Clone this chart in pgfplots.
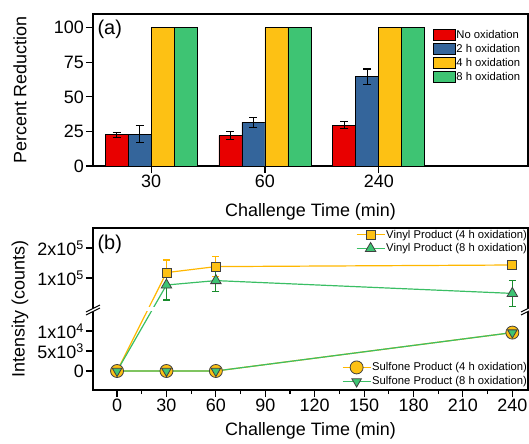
\documentclass[border=0pt]{standalone}
\usepackage{fontspec}
\setmainfont{Liberation Sans}
\usepackage{pgfplots}
\pgfplotsset{compat=1.18}

\definecolor{cred}{RGB}{232,0,0}
\definecolor{cblue}{RGB}{52,101,155}
\definecolor{cyel}{RGB}{253,193,20}
\definecolor{cgrn}{RGB}{62,196,115}
\definecolor{lora}{RGB}{255,183,0}
\definecolor{lgrn}{RGB}{58,190,100}
\definecolor{egrn}{RGB}{25,140,45}

\pgfplotsset{
  base/.style={scale only axis, anchor=south west,
    axis line style={line width=1.1bp}, tick style={line width=1.1bp, black},
    tick align=outside, major tick length=7bp, minor tick length=4bp, tick pos=left,
    tick label style={font=\fontsize{18}{20}\selectfont, inner sep=2bp},
    /pgf/number format/assume math mode=true,
    every axis y label/.style={at={(axis description cs:0,0.5)}, xshift=-73bp, rotate=90, anchor=center, font=\fontsize{18}{20}\selectfont},
    every axis x label/.style={at={(axis description cs:0.5,0)}, yshift=-46bp, anchor=center, font=\fontsize{18}{20}\selectfont}},
  leg/.style={draw=none, fill=none, font=\fontsize{11.3}{12}\selectfont, row sep=1.8bp, inner sep=0pt, nodes={inner sep=1bp}},
}

\begin{document}
\begin{tikzpicture}
\useasboundingbox (0bp,0bp) rectangle (529bp,-444bp);

% panel (a)
\begin{axis}[base, at={(93bp,-166bp)}, width=435bp, height=152bp,
  ybar=0pt, bar width=23bp, xmin=-0.51, xmax=3.31, ymin=0, ymax=110,
  xtick={0,1,2}, xticklabels={30,60,240}, ytick={0,25,50,75,100},
  xlabel={Challenge Time (min)}, ylabel={Percent Reduction},
  legend style={leg, at={(axis description cs:0.78,0.905)}, anchor=north west},
  legend cell align=left,
  legend image code/.code={\draw[#1, draw=black, line width=0.9bp] (0bp,-5bp) rectangle (22bp,6bp);},
  every axis plot/.append style={draw=black, line width=0.9bp},
  error bars/error bar style={line width=1.1bp, black},
  error bars/error mark options={rotate=90, mark size=4bp, line width=1.1bp, black}]
\addplot[fill=cred, error bars/.cd, y dir=both, y explicit]
  coordinates {(0,22.5) +- (0,2) (1,22) +- (0,3) (2,29.5) +- (0,2.5)};
\addplot[fill=cblue, error bars/.cd, y dir=both, y explicit]
  coordinates {(0,23) +- (0,6) (1,31.5) +- (0,3.5) (2,64.7) +- (0,5.5)};
\addplot[fill=cyel] coordinates {(0,100) (1,100) (2,100)};
\addplot[fill=cgrn] coordinates {(0,100) (1,100) (2,100)};
\legend{No oxidation, 2 h oxidation, 4 h oxidation, 8 h oxidation}
\node[anchor=north west, inner sep=0pt, font=\fontsize{20}{22}\selectfont] at (axis description cs:0.01,0.96) {(a)};
\end{axis}

% panel (b): broken y axis, display units
% below the break: y = counts/1000 ; above the break: y = 15.75 + counts*7.5e-5
\begin{axis}[base, at={(93bp,-390bp)}, width=435bp, height=162bp,
  xmin=-14.6, xmax=249.5, ymin=-4.75, ymax=35.75,
  xtick={0,30,...,240}, minor x tick num=1,
  ytick={0,5,10,23.25,30.75},
  yticklabels={0,{5x10\textsuperscript{3}},{1x10\textsuperscript{4}},{1x10\textsuperscript{5}},{2x10\textsuperscript{5}}},
  xlabel={Challenge Time (min)}, ylabel={Intensity (counts)},
  every axis x label/.append style={yshift=5bp},
  legend style={leg, at={(axis description cs:1,0.995)}, anchor=north east},
  legend cell align=left,
  legend image code/.code={\draw[mark repeat=2,mark phase=2,#1] plot coordinates {(0bp,0bp) (14bp,0bp) (28bp,0bp)};}]
\addplot[lora, line width=1.2bp, mark=square*, mark size=4.5bp,
  mark options={fill=cyel, draw=black!75, line width=0.8bp},
  error bars/.cd, y dir=both, y explicit,
  error bar style={lora, line width=1.1bp},
  error mark options={rotate=90, mark size=3.5bp, lora, line width=1.1bp}]
  coordinates {(0,0) +- (0,0) (30,24.6) +- (0,3.15) (60,26.1) +- (0,2.5) (240,26.5) +- (0,0.3)};
\addplot[lgrn, line width=1.2bp, mark=triangle*, mark size=6bp,
  mark options={fill=cgrn, draw=black!75, line width=0.8bp},
  error bars/.cd, y dir=both, y explicit,
  error bar style={egrn, line width=1.1bp},
  error mark options={rotate=90, mark size=3.5bp, egrn, line width=1.1bp}]
  coordinates {(0,0) +- (0,0) (30,21.5) +- (0,3.75) (60,22.6) +- (0,2.8) (240,19.4) +- (0,3.2)};
\legend{Vinyl Product (4 h oxidation), Vinyl Product (8 h oxidation)}
\fill[white] (axis cs:-14,15.1) rectangle (axis cs:249,15.9);
\node[anchor=north west, inner sep=0pt, font=\fontsize{20}{22}\selectfont] at (axis description cs:0.01,0.96) {(b)};
\end{axis}

\begin{axis}[scale only axis, anchor=south west, at={(93bp,-390bp)}, width=435bp, height=162bp,
  xmin=-14.6, xmax=249.5, ymin=-4.75, ymax=35.75, hide axis,
  legend style={leg, at={(axis description cs:1,0.015)}, anchor=south east},
  legend cell align=left,
  legend image code/.code={\draw[mark repeat=2,mark phase=2,#1] plot coordinates {(0bp,0bp) (14bp,0bp) (28bp,0bp)};}]
\addplot[lora, line width=1.2bp, mark=*, mark size=6.5bp,
  mark options={fill=cyel, draw=black!75, line width=0.8bp}]
  coordinates {(0,0) (30,0) (60,0) (240,9.6)};
\addplot[lgrn, line width=1.2bp, mark=triangle*, mark size=5.5bp,
  mark options={fill=cgrn, draw=black!75, line width=0.8bp, rotate=180}]
  coordinates {(0,0) (30,0) (60,0) (240,9.6)};
\legend{Sulfone Product (4 h oxidation), Sulfone Product (8 h oxidation)}
\end{axis}

% axis break marks
\foreach \bx in {93bp,528bp} {
  \fill[white] ([shift={(-7bp,-5bp)}]\bx,-310bp) -- ([shift={(7bp,2bp)}]\bx,-310bp) -- ([shift={(7bp,5bp)}]\bx,-310bp) -- ([shift={(-7bp,-2bp)}]\bx,-310bp) -- cycle;
  \draw[line width=1bp] ([shift={(-7bp,-5bp)}]\bx,-310bp) -- ([shift={(7bp,2bp)}]\bx,-310bp);
  \draw[line width=1bp] ([shift={(-7bp,-2bp)}]\bx,-310bp) -- ([shift={(7bp,5bp)}]\bx,-310bp);
}
\end{tikzpicture}
\end{document}
